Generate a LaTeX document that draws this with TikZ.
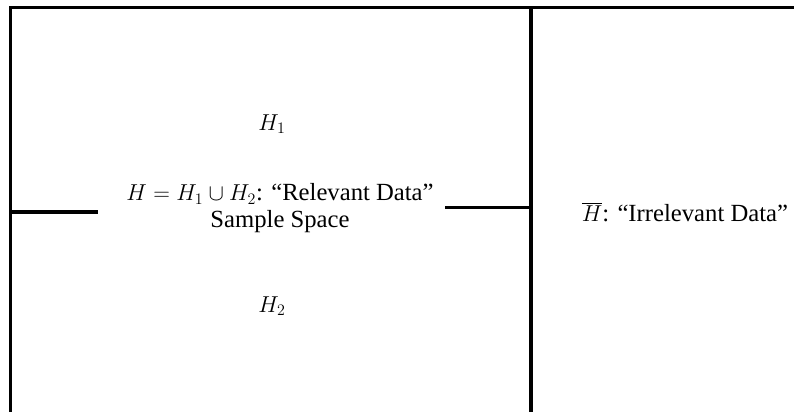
\documentclass[tikz,border=0pt]{standalone}
\usepackage{fontspec}
\setmainfont{Liberation Serif}
\begin{document}
\begin{tikzpicture}[x=0.75pt, y=-0.75pt, line width=2.6pt]
        \tikzset{lbl/.style={font=\fontsize{18.5}{20}\selectfont, inner sep=1pt}}
        \useasboundingbox (0,0) rectangle (794,412);

        % ===== CORNICE =====
        \def\xL{10.5}
        \def\xD{531}
        \def\yT{7.5}

        \draw (794,\yT) -- (\xL,\yT) -- (\xL,412);
        \draw (\xD,\yT) -- (\xD,412);

        % ===== SPAZIO CAMPIONARIO =====
        \node[lbl] (h1) at (272,124) {$H_1$};
        \node[lbl, align=center] (hrel) at (280,208)
            {$H = H_1 \cup H_2$: ``Relevant Data''\\Sample Space};
        \node[lbl] (h2) at (272,306) {$H_2$};

        % tratti orizzontali
        \coordinate (lft) at (\xL,212);
        \coordinate (rgt) at (\xD,207.5);
        \draw (lft) -- (lft -| 98,0);
        \draw (rgt -| 445,0) -- (rgt);

        % ===== COMPLEMENTO =====
        \node[lbl] (hbar) at (685,212) {$\overline{H}$: ``Irrelevant Data''};
    \end{tikzpicture}
\end{document}
